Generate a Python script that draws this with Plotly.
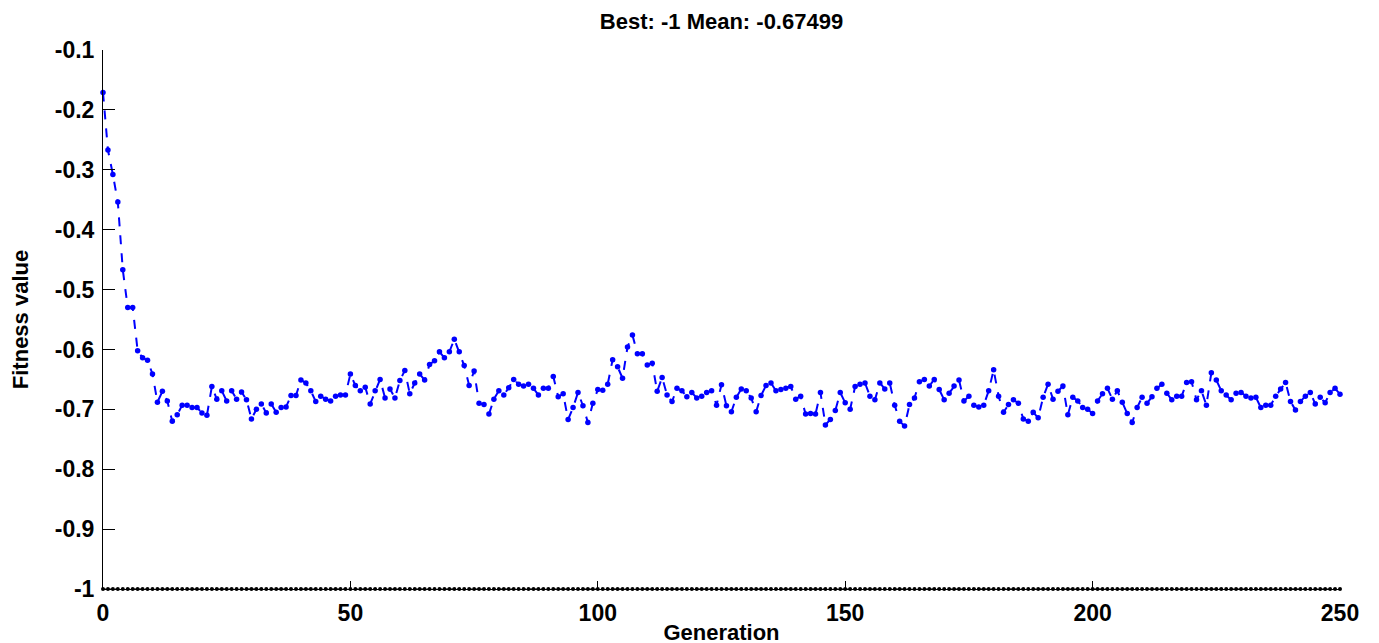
import plotly.graph_objects as go

generations = list(range(0, 251))

mean_fitness = [
    -0.171, -0.267, -0.308, -0.354, -0.467, -0.530, -0.530, -0.602, -0.614, -0.618,
    -0.641, -0.688, -0.670, -0.686, -0.720, -0.709, -0.693, -0.693, -0.697, -0.697,
    -0.706, -0.710, -0.662, -0.683, -0.669, -0.686, -0.669, -0.683, -0.671, -0.684,
    -0.716, -0.700, -0.691, -0.706, -0.691, -0.705, -0.697, -0.696, -0.677, -0.677,
    -0.651, -0.656, -0.669, -0.687, -0.678, -0.683, -0.686, -0.678, -0.676, -0.676,
    -0.641, -0.660, -0.669, -0.663, -0.691, -0.669, -0.650, -0.681, -0.666, -0.681,
    -0.652, -0.635, -0.674, -0.656, -0.641, -0.651, -0.625, -0.619, -0.604, -0.614,
    -0.604, -0.583, -0.604, -0.627, -0.660, -0.636, -0.690, -0.692, -0.708, -0.683,
    -0.669, -0.676, -0.664, -0.650, -0.658, -0.661, -0.658, -0.665, -0.676, -0.665,
    -0.665, -0.645, -0.679, -0.674, -0.717, -0.697, -0.672, -0.694, -0.722, -0.690,
    -0.667, -0.668, -0.658, -0.617, -0.629, -0.648, -0.596, -0.576, -0.607, -0.607,
    -0.626, -0.623, -0.670, -0.647, -0.676, -0.687, -0.665, -0.669, -0.679, -0.672,
    -0.681, -0.678, -0.672, -0.669, -0.693, -0.659, -0.694, -0.704, -0.680, -0.666,
    -0.669, -0.681, -0.704, -0.677, -0.660, -0.656, -0.669, -0.667, -0.665, -0.662,
    -0.683, -0.678, -0.708, -0.707, -0.708, -0.672, -0.726, -0.717, -0.702, -0.672,
    -0.689, -0.700, -0.662, -0.658, -0.656, -0.678, -0.684, -0.656, -0.666, -0.656,
    -0.693, -0.720, -0.728, -0.692, -0.681, -0.654, -0.650, -0.661, -0.650, -0.667,
    -0.684, -0.673, -0.661, -0.651, -0.686, -0.678, -0.693, -0.696, -0.693, -0.669,
    -0.634, -0.678, -0.705, -0.692, -0.684, -0.690, -0.716, -0.720, -0.705, -0.714,
    -0.680, -0.658, -0.683, -0.670, -0.661, -0.709, -0.680, -0.686, -0.697, -0.700,
    -0.707, -0.686, -0.674, -0.665, -0.683, -0.669, -0.688, -0.707, -0.722, -0.697,
    -0.680, -0.690, -0.679, -0.665, -0.658, -0.673, -0.684, -0.678, -0.678, -0.655,
    -0.654, -0.684, -0.669, -0.693, -0.639, -0.651, -0.669, -0.676, -0.684, -0.673,
    -0.672, -0.678, -0.681, -0.680, -0.697, -0.693, -0.693, -0.678, -0.666, -0.655,
    -0.687, -0.701, -0.687, -0.678, -0.672, -0.691, -0.680, -0.689, -0.672, -0.665,
    -0.675,
]

best_fitness = [-1.0] * len(generations)

y_tick_vals = [-1.0, -0.9, -0.8, -0.7, -0.6, -0.5, -0.4, -0.3, -0.2, -0.1]
y_tick_text = ["-1", "-0.9", "-0.8", "-0.7", "-0.6", "-0.5", "-0.4", "-0.3", "-0.2", "-0.1"]
x_tick_vals = [0, 50, 100, 150, 200, 250]

title_text = "Best: -1 Mean: -0.67499"

FONT = "Liberation Sans, Arial, Helvetica, sans-serif"

fig = go.Figure()

fig.add_trace(go.Scatter(
    x=generations, y=best_fitness, mode="lines+markers",
    line=dict(color="black", width=1, dash="dot"),
    marker=dict(color="black", size=4),
    name="Best fitness", cliponaxis=False,
))

fig.add_trace(go.Scatter(
    x=generations, y=mean_fitness, mode="lines+markers",
    line=dict(color="#0000ff", width=2, dash="dash"),
    marker=dict(color="#0000ff", size=5.5),
    name="Mean fitness", cliponaxis=False,
))

# page body has an 8px margin: offsets compensate so plot area sits at x 103..1340, y 50..589
fig.update_layout(
    width=1379, height=643,
    margin=dict(l=95, r=47, t=42, b=62, autoexpand=False),
    paper_bgcolor="white", plot_bgcolor="white",
    showlegend=False,
    font=dict(family=FONT, color="black"),
    title=dict(
        text="<b>" + title_text + "</b>",
        x=(95 + 1332) / 2 / 1379, xanchor="center",
        y=1 - 13 / 643, yanchor="middle", yref="container",
        font=dict(size=22, family=FONT, color="black"),
    ),
)

fig.update_xaxes(
    range=[0, 250], tickvals=x_tick_vals,
    ticktext=["<b>%d</b>" % v for v in x_tick_vals],
    ticks="inside", ticklen=8, tickwidth=1, tickcolor="black",
    showline=True, linecolor="black", linewidth=1,
    showgrid=False, zeroline=False, automargin=False,
    ticklabelstandoff=3,
    tickfont=dict(size=23, family=FONT, color="black"),
    title=dict(text="<b>Generation</b>", font=dict(size=22, family=FONT, color="black"), standoff=0),
)

fig.update_yaxes(
    range=[-1, -0.1], tickvals=y_tick_vals,
    ticktext=["<b>" + t + "</b>" for t in y_tick_text],
    ticks="inside", ticklen=12, tickwidth=1, tickcolor="black",
    showline=True, linecolor="black", linewidth=1,
    showgrid=False, zeroline=False, automargin=False,
    ticklabelstandoff=3,
    tickfont=dict(size=23, family=FONT, color="black"),
    title=dict(text="<b>Fitness value</b>", font=dict(size=22, family=FONT, color="black"), standoff=20),
)

fig.write_html("out.html")
